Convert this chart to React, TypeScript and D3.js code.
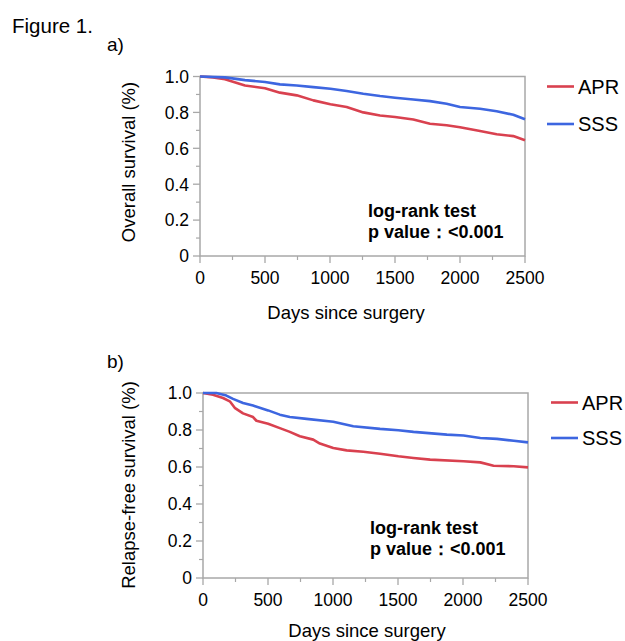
import React from "react";
import * as d3 from "d3";

// ---- Data (days since surgery, survival probability) ----
const osAprDays = [0, 100, 192, 346, 500, 615, 744, 872, 1003, 1128, 1256, 1385, 1500, 1641, 1769, 1897, 2000, 2154, 2282, 2410, 2500];
const osAprVals = [1.0, 0.995, 0.985, 0.95, 0.935, 0.91, 0.895, 0.867, 0.845, 0.83, 0.8, 0.783, 0.774, 0.76, 0.737, 0.728, 0.717, 0.696, 0.678, 0.668, 0.645];
const osSssDays = [0, 192, 346, 500, 615, 744, 872, 1003, 1128, 1256, 1385, 1500, 1641, 1769, 1897, 2000, 2154, 2282, 2410, 2500];
const osSssVals = [1.0, 0.995, 0.98, 0.969, 0.956, 0.95, 0.941, 0.932, 0.919, 0.904, 0.891, 0.882, 0.872, 0.863, 0.848, 0.83, 0.82, 0.806, 0.787, 0.762];

const rfsAprDays = [0, 77, 154, 206, 244, 308, 385, 411, 501, 591, 668, 745, 848, 899, 1002, 1105, 1233, 1362, 1503, 1619, 1747, 2004, 2133, 2235, 2390, 2500];
const rfsAprVals = [1.0, 0.991, 0.973, 0.955, 0.92, 0.89, 0.87, 0.85, 0.834, 0.81, 0.79, 0.766, 0.748, 0.727, 0.703, 0.69, 0.682, 0.672, 0.658, 0.649, 0.64, 0.631, 0.625, 0.607, 0.604, 0.598];
const rfsSssDays = [0, 103, 180, 231, 308, 385, 501, 591, 668, 797, 1002, 1156, 1362, 1503, 1619, 1876, 2004, 2133, 2261, 2390, 2500];
const rfsSssVals = [1.0, 1.0, 0.986, 0.968, 0.946, 0.932, 0.906, 0.883, 0.87, 0.86, 0.845, 0.82, 0.806, 0.799, 0.79, 0.775, 0.77, 0.757, 0.752, 0.742, 0.733];

const groups = ["APR", "SSS"];
const xTicks = [0, 500, 1000, 1500, 2000, 2500];
const yTicks = [0, 0.2, 0.4, 0.6, 0.8, 1.0];
const yTickLabels = ["0", "0.2", "0.4", "0.6", "0.8", "1.0"];
const xTitle = "Days since surgery";
const panelTitles = ["a)", "b)"];
const yTitles = ["Overall survival (%)", "Relapse-free survival (%)"];
const testLines = ["log-rank test", "p value\uFF1A<0.001"];

const COLORS = ["#d9414f", "#3d66e0"];
const GREY = "#a8a8a8";
const FONT = "'Liberation Sans', Arial, Helvetica, sans-serif";

type Pt = [number, number];
const zip = (a: number[], b: number[]): Pt[] => a.map((d, i) => [d, b[i]]);

interface PanelProps {
  x0: number; x1: number; yTop: number; yBot: number;
  series: Pt[][];
  title: string; yTitle: string;
  titlePos: [number, number];
  legendX: number; legendY: [number, number];
  testPos: [number, number];
  yTitlePos: [number, number];
  xTitlePos: [number, number];
}

function Panel(p: PanelProps) {
  const x = d3.scaleLinear().domain([0, 2500]).range([p.x0, p.x1]);
  const y = d3.scaleLinear().domain([0, 1]).range([p.yBot, p.yTop]);
  const line = d3.line<Pt>().x(d => x(d[0])).y(d => y(d[1])).curve(d3.curveLinear);
  const minorX = d3.range(250, 2500, 500);
  const minorY = d3.range(0.1, 1.0, 0.2);
  return (
    <g>
      <text x={p.titlePos[0]} y={p.titlePos[1]} fontSize={19} fontFamily={FONT}>{p.title}</text>
      {/* frame */}
      <rect x={p.x0} y={p.yTop} width={p.x1 - p.x0} height={p.yBot - p.yTop} fill="none" stroke={GREY} strokeWidth={1.5} />
      {/* y ticks */}
      {yTicks.map((t, i) => (
        <g key={"y" + i}>
          <line x1={p.x0 - 7} x2={p.x0} y1={y(t)} y2={y(t)} stroke={GREY} strokeWidth={1.3} />
          <text x={p.x0 - 11} y={y(t)} dy="0.36em" textAnchor="end" fontSize={17.5} fontFamily={FONT}>{yTickLabels[i]}</text>
        </g>
      ))}
      {minorY.map((t, i) => (
        <line key={"my" + i} x1={p.x0 - 4} x2={p.x0} y1={y(t)} y2={y(t)} stroke={GREY} strokeWidth={1.2} />
      ))}
      {/* x ticks */}
      {xTicks.map((t, i) => (
        <g key={"x" + i}>
          <line x1={x(t)} x2={x(t)} y1={p.yBot} y2={p.yBot + 7} stroke={GREY} strokeWidth={1.3} />
          <text x={x(t)} y={p.yBot + 28} textAnchor="middle" fontSize={17.5} fontFamily={FONT}>{t}</text>
        </g>
      ))}
      {minorX.map((t, i) => (
        <line key={"mx" + i} x1={x(t)} x2={x(t)} y1={p.yBot} y2={p.yBot + 4} stroke={GREY} strokeWidth={1.2} />
      ))}
      <text x={p.xTitlePos[0]} y={p.xTitlePos[1]} textAnchor="middle" fontSize={18.5} fontFamily={FONT}>{xTitle}</text>
      <text transform={`translate(${p.yTitlePos[0]},${p.yTitlePos[1]}) rotate(-90)`} textAnchor="middle" fontSize={18.5} fontFamily={FONT}>{p.yTitle}</text>
      {/* curves */}
      {p.series.map((s, i) => (
        <path key={"s" + i} d={line(s) || ""} fill="none" stroke={COLORS[i]} strokeWidth={2.6} strokeLinejoin="round" />
      ))}
      {/* legend */}
      {groups.map((g, i) => (
        <g key={"l" + i}>
          <line x1={p.legendX} x2={p.legendX + 27} y1={p.legendY[i]} y2={p.legendY[i]} stroke={COLORS[i]} strokeWidth={2.6} />
          <text x={p.legendX + 31} y={p.legendY[i]} dy="0.36em" fontSize={20} fontFamily={FONT}>{g}</text>
        </g>
      ))}
      {/* test annotation */}
      {testLines.map((t, i) => (
        <text key={"t" + i} x={p.testPos[0]} y={p.testPos[1] + i * 21} fontSize={18} fontWeight="bold" fontFamily={FONT}>{t}</text>
      ))}
    </g>
  );
}

export default function App() {
  return (
    <div style={{ position: "absolute", left: 0, top: 0 }}>
      <svg width={625} height={641} style={{ display: "block", background: "#fff" }}>
        <text x={12} y={33} fontSize={20.5} fontFamily={FONT}>Figure 1.</text>
        <Panel
          x0={200} x1={525} yTop={76.5} yBot={256}
          series={[zip(osAprDays, osAprVals), zip(osSssDays, osSssVals)]}
          title={panelTitles[0]} yTitle={yTitles[0]}
          titlePos={[107, 51]}
          legendX={547} legendY={[86.5, 124]}
          testPos={[368, 217]}
          yTitlePos={[135, 162]}
          xTitlePos={[346, 319]}
        />
        <Panel
          x0={203} x1={528} yTop={393} yBot={578}
          series={[zip(rfsAprDays, rfsAprVals), zip(rfsSssDays, rfsSssVals)]}
          title={panelTitles[1]} yTitle={yTitles[1]}
          titlePos={[107, 368]}
          legendX={551} legendY={[402.5, 438]}
          testPos={[370, 534]}
          yTitlePos={[135, 485]}
          xTitlePos={[367, 637]}
        />
      </svg>
    </div>
  );
}
